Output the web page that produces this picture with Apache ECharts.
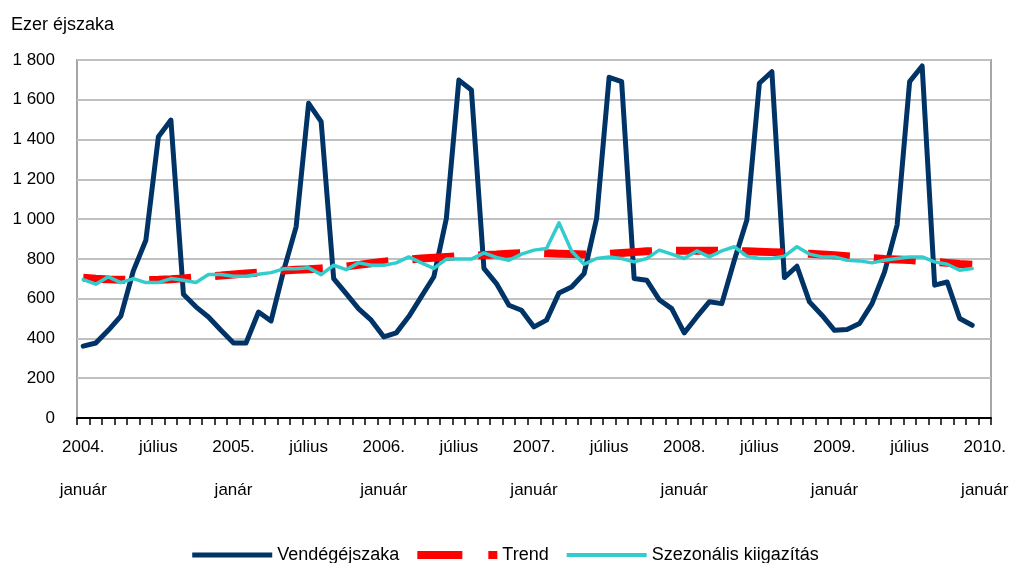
<!DOCTYPE html>
<html>
<head>
<meta charset="utf-8">
<script src="https://cdn.jsdelivr.net/npm/echarts@6/dist/echarts.min.js"></script>
<style>html,body{margin:0;padding:0;background:#fff}#c{width:1011px;height:563px}</style>
</head>
<body>
<div id="c"></div>
<script>
// Months: 2004 Jan .. 2010 Jan (73 categories; data through 2009 Dec)
const years = [2004, 2005, 2006, 2007, 2008, 2009, 2010];
const categories = [];
years.forEach(y => { for (let m = 1; m <= 12; m++) { if (y === 2010 && m > 1) break; categories.push(y + '-' + (m < 10 ? '0' + m : m)); } });

const tickLabels = {
  '2004-01': '2004.\njanuár', '2004-07': 'július',
  '2005-01': '2005.\njanár',  '2005-07': 'július',
  '2006-01': '2006.\njanuár', '2006-07': 'július',
  '2007-01': '2007.\njanuár', '2007-07': 'július',
  '2008-01': '2008.\njanuár', '2008-07': 'július',
  '2009-01': '2009.\njanuár', '2009-07': 'július',
  '2010-01': '2010.\njanuár'
};

const vendegejszaka = [
  361, 377, 441, 512, 740, 894, 1414, 1498, 622, 559, 508, 441,
  377, 377, 533, 488, 740, 961, 1582, 1490, 701, 625, 549, 492,
  408, 428, 510, 610, 710, 1003, 1699, 1649, 752, 676, 567, 542,
  458, 492, 629, 659, 726, 1003, 1713, 1691, 701, 693, 595, 550,
  428, 508, 584, 575, 793, 995, 1683, 1741, 706, 763, 584, 517,
  441, 445, 475, 575, 735, 970, 1691, 1770, 668, 684, 500, 466
];

const trend = [
  705, 700, 697, 695, 694, 694, 695, 698, 702, 707, 712, 716,
  721, 726, 731, 736, 741, 745, 748, 752, 756, 762, 770, 778,
  786, 792, 797, 802, 806, 810, 813, 816, 819, 822, 826, 828,
  829, 828, 826, 824, 822, 822, 826, 830, 834, 838, 840, 841,
  841, 841, 841, 841, 840, 838, 836, 834, 832, 829, 826, 822,
  818, 813, 808, 804, 800, 797, 794, 790, 786, 780, 774, 770
];

const szezonalis = [
  696, 673, 710, 681, 701, 681, 681, 701, 693, 681, 721, 721,
  713, 713, 723, 731, 750, 750, 755, 721, 768, 746, 780, 768,
  768, 780, 810, 780, 752, 799, 799, 799, 830, 807, 793, 824,
  844, 852, 981, 840, 773, 802, 810, 802, 785, 802, 844, 824,
  802, 840, 810, 840, 861, 814, 802, 802, 814, 861, 824, 810,
  810, 793, 790, 780, 793, 802, 810, 810, 785, 773, 743, 752
];

const yTicks = [0, 200, 400, 600, 800, 1000, 1200, 1400, 1600, 1800];

const FONT = '"Liberation Sans", Arial, sans-serif';
const chart = echarts.init(document.getElementById('c'), null, { renderer: 'canvas' });
chart.setOption({
  animation: false,
  backgroundColor: '#ffffff',
  textStyle: { fontFamily: FONT, color: '#000' },
  title: {
    text: 'Ezer éjszaka', left: 6, top: 11,
    textStyle: { fontFamily: FONT, fontSize: 18, fontWeight: 'normal', color: '#000' }
  },
  grid: {
    left: 77, right: 20, top: 60, bottom: 145,
    outerBoundsMode: 'none', containLabel: false,
    show: true, borderColor: '#a6a6a6', borderWidth: 2, backgroundColor: 'transparent'
  },
  legend: {
    top: 541, left: 'center',
    itemWidth: 80, itemHeight: 12, itemGap: 18,
    textStyle: { fontFamily: FONT, fontSize: 18, color: '#000' },
    data: [
      { name: 'Vendégéjszaka', icon: 'path://M0,0H80V5H0Z' },
      { name: 'Trend', icon: 'path://M0,0H45V8H0Z M71,0H80V8H71Z' },
      { name: 'Szezonális kiigazítás', icon: 'path://M0,0H80V4H0Z' }
    ]
  },
  xAxis: {
    type: 'category', data: categories, boundaryGap: true,
    axisLine: { show: true, lineStyle: { color: '#000', width: 2 } },
    axisTick: { show: true, interval: 0, length: 7, lineStyle: { color: '#000', width: 1.5 } },
    axisLabel: {
      interval: 0, margin: 8, fontFamily: FONT, fontSize: 17, color: '#000', lineHeight: 43,
      verticalAlign: 'top',
      formatter: (v) => tickLabels[v] || ''
    },
    splitLine: { show: false }
  },
  yAxis: {
    type: 'value', min: yTicks[0], max: yTicks[yTicks.length - 1], interval: 200,
    axisLine: { show: false }, axisTick: { show: false },
    axisLabel: {
      margin: 22, fontFamily: FONT, fontSize: 17, color: '#000',
      formatter: (v) => String(v).replace(/\B(?=(\d{3})+(?!\d))/g, ' ')
    },
    splitLine: { show: true, lineStyle: { color: '#c0c0c0', width: 2 } }
  },
  series: [
    {
      name: 'Vendégéjszaka', type: 'line', data: vendegejszaka, symbol: 'none', showSymbol: false,
      lineStyle: { color: '#003366', width: 5, cap: 'round', join: 'round' },
      itemStyle: { color: '#003366' }, z: 2
    },
    {
      name: 'Trend', type: 'line', data: trend, symbol: 'none', showSymbol: false,
      lineStyle: { color: '#ff0000', width: 8, type: [42, 24], cap: 'butt' },
      itemStyle: { color: '#ff0000' }, z: 3
    },
    {
      name: 'Szezonális kiigazítás', type: 'line', data: szezonalis, symbol: 'none', showSymbol: false,
      lineStyle: { color: '#33cccc', width: 3.5, cap: 'round', join: 'round' },
      itemStyle: { color: '#33cccc' }, z: 4
    }
  ]
});
</script>
</body>
</html>
